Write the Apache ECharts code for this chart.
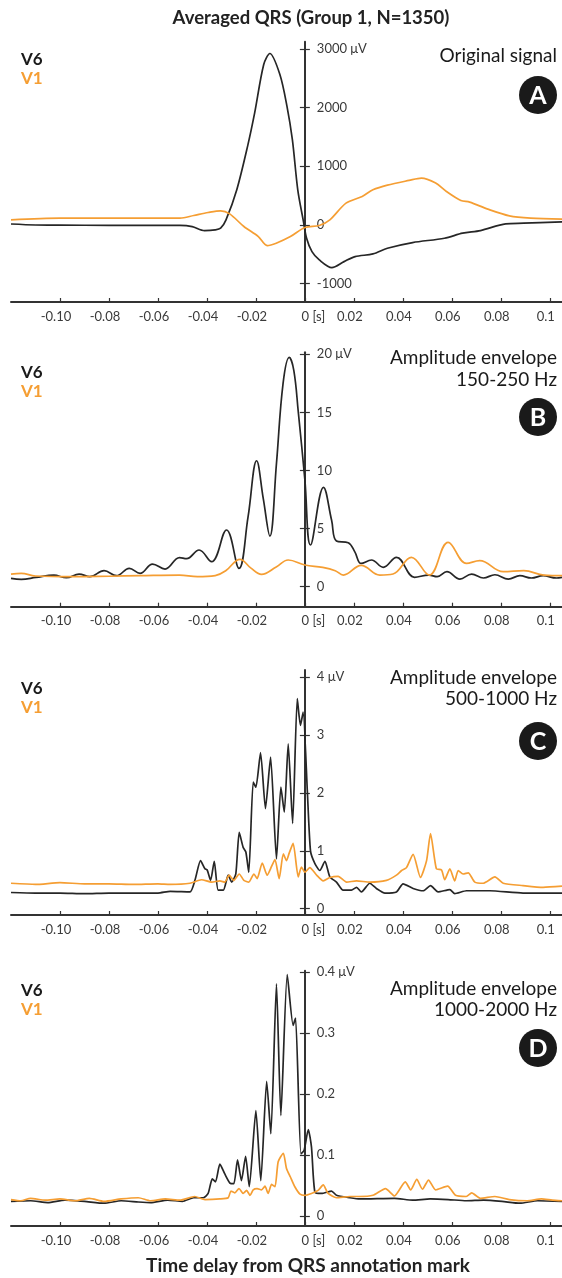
<!DOCTYPE html>
<html>
<head>
<meta charset="utf-8">
<script src="https://cdn.jsdelivr.net/npm/echarts@6/dist/echarts.min.js"></script>
<style>
html,body{margin:0;padding:0;background:#fff}
#chart{width:562px;height:1278px}
</style>
</head>
<body>
<div id="chart"></div>
<script>
// time axis (s)
var xTicks = [-0.1, -0.08, -0.06, -0.04, -0.02, 0, 0.02, 0.04, 0.06, 0.08, 0.1];
var xMin = -0.12, xMax = 0.105;

// A - original signal (uV)
var tA6 = [-0.12,-0.11,-0.1,-0.08,-0.06,-0.051,-0.046,-0.041,-0.0366,-0.0344,-0.0322,-0.0278,-0.0234,-0.0205,-0.0168,-0.0143,-0.0102,-0.0073,-0.0051,-0.0029,-0.0007,0.0007,0.0029,0.0059,0.011,0.016,0.0205,0.0278,0.0337,0.044,0.057,0.0644,0.0717,0.082,0.0893,0.105];
var vA6 = [15,-2,-5,-8,-10,-10,-30,-97,-85,-57,85,600,1340,1910,2736,2924,2565,2023,1453,598,85,-228,-456,-598,-730,-627,-541,-496,-399,-302,-228,-142,-97,17,28,51];
var tA1 = [-0.12,-0.1,-0.08,-0.06,-0.051,-0.0454,-0.0395,-0.0344,-0.0307,-0.0249,-0.019,-0.0154,-0.0117,-0.0059,0,0.0059,0.0102,0.0168,0.0234,0.0278,0.0337,0.0425,0.0476,0.0534,0.0578,0.0637,0.0673,0.0747,0.0835,0.0922,0.105];
var vA1 = [85,114,114,114,114,160,211,240,188,-28,-200,-353,-313,-200,-46,-11,85,370,485,598,678,758,798,713,570,416,388,268,154,114,97];

// B - amplitude envelope 150-250 Hz (uV)
var tB6 = [-0.12,-0.1158,-0.1098,-0.1025,-0.0974,-0.0922,-0.0878,-0.082,-0.0769,-0.0717,-0.0673,-0.0622,-0.0571,-0.0512,-0.0483,-0.0432,-0.0381,-0.032,-0.0269,-0.0232,-0.0197,-0.017,-0.0143,-0.0116,-0.0089,-0.0064,-0.0045,-0.0027,0,0.0023,0.0076,0.0109,0.0129,0.0177,0.0204,0.023,0.0272,0.032,0.0374,0.0448,0.0506,0.054,0.058,0.0633,0.0681,0.0729,0.0776,0.0831,0.0878,0.0925,0.0973,0.1027,0.105];
var vB6 = [0.72,0.63,0.8,1.0,0.77,1.09,0.86,1.38,0.95,1.58,1.15,1.95,1.52,2.5,2.41,3.16,2.15,4.88,1.58,6.0,10.84,7.6,4.36,10.6,17.5,19.74,18.6,15.06,9.2,3.59,8.55,5.74,3.93,3.79,3.0,2.0,2.3,1.67,2.53,0.81,1.0,0.86,1.29,0.66,1.09,0.75,1.03,0.66,0.95,0.75,0.95,0.75,0.8];
var tB1 = [-0.12,-0.1158,-0.11,-0.0952,-0.08,-0.0673,-0.0512,-0.0439,-0.0366,-0.0322,-0.0265,-0.022,-0.0177,-0.0117,-0.0068,0,0.0073,0.0124,0.0157,0.023,0.0306,0.036,0.0435,0.0508,0.0585,0.066,0.0714,0.081,0.0894,0.0976,0.105];
var vB1 = [1.09,1.15,0.92,0.86,0.9,0.95,1.0,0.86,0.95,1.4,2.36,1.6,1.07,1.7,2.3,1.87,1.66,1.38,1.0,1.84,1.0,1.09,2.53,1.0,3.82,2.0,2.24,1.29,1.38,1.0,0.95];

// C - amplitude envelope 500-1000 Hz (uV)
var tC6 = [-0.12,-0.11,-0.1,-0.09,-0.08,-0.07,-0.06,-0.055,-0.0469,-0.0449,-0.0426,-0.0408,-0.0399,-0.0385,-0.037,-0.0354,-0.0333,-0.0313,-0.0299,-0.0282,-0.0268,-0.0252,-0.0241,-0.0229,-0.0211,-0.02,-0.0181,-0.0161,-0.014,-0.0116,-0.0098,-0.0084,-0.0068,-0.005,-0.0031,-0.0018,-0.0007,0.001,0.0023,0.0041,0.0061,0.0082,0.0102,0.0129,0.0156,0.019,0.0211,0.0231,0.0265,0.0292,0.0327,0.0374,0.0401,0.0442,0.0483,0.0513,0.0544,0.0592,0.0612,0.066,0.0755,0.0891,0.105];
var vC6 = [0.28,0.27,0.27,0.26,0.27,0.27,0.27,0.3,0.29,0.49,0.83,0.69,0.67,0.49,0.82,0.32,0.32,0.58,0.46,0.6,1.32,1.06,0.98,0.63,2.19,2.1,2.7,1.73,2.62,0.86,2.1,1.67,2.85,1.47,3.63,3.17,3.4,2.04,1.0,0.78,0.66,0.82,0.55,0.46,0.32,0.32,0.37,0.29,0.44,0.35,0.27,0.29,0.43,0.35,0.31,0.4,0.29,0.33,0.26,0.31,0.31,0.27,0.27];
var tC1 = [-0.12,-0.11,-0.1,-0.09,-0.08,-0.07,-0.06,-0.0551,-0.0469,-0.0422,-0.0381,-0.0347,-0.0327,-0.0309,-0.029,-0.0268,-0.0249,-0.0229,-0.0208,-0.0195,-0.0174,-0.0154,-0.0136,-0.0122,-0.0105,-0.0088,-0.0075,-0.0064,-0.0048,-0.0027,-0.0014,0,0.002,0.0048,0.0075,0.0102,0.0136,0.017,0.0211,0.0265,0.0333,0.0374,0.0395,0.0415,0.0442,0.0472,0.0497,0.0513,0.0537,0.0558,0.0571,0.0592,0.0612,0.0626,0.0646,0.0667,0.0694,0.0728,0.0776,0.081,0.0891,0.0973,0.105];
var vC1 = [0.44,0.42,0.45,0.43,0.43,0.42,0.43,0.42,0.44,0.5,0.46,0.48,0.46,0.58,0.49,0.6,0.49,0.46,0.6,0.52,0.79,0.58,0.73,0.85,0.52,0.95,0.83,0.96,1.13,0.55,0.72,0.63,0.71,0.58,0.48,0.54,0.56,0.46,0.48,0.46,0.49,0.58,0.66,0.71,0.94,0.54,0.83,1.3,0.69,0.67,0.5,0.69,0.48,0.66,0.6,0.62,0.46,0.44,0.55,0.44,0.4,0.37,0.39];

// D - amplitude envelope 1000-2000 Hz (uV)
var tD6 = [-0.12,-0.112,-0.105,-0.098,-0.09,-0.082,-0.075,-0.068,-0.063,-0.056,-0.05,-0.0454,-0.0415,-0.0395,-0.0378,-0.0365,-0.0347,-0.0327,-0.0306,-0.029,-0.0275,-0.0259,-0.0242,-0.0227,-0.02,-0.018,-0.0156,-0.0139,-0.0116,-0.0098,-0.0072,-0.0048,-0.0038,-0.0016,-0.0003,0.0014,0.0027,0.0041,0.0068,0.0109,0.0129,0.0184,0.0224,0.0366,0.044,0.0512,0.0585,0.0659,0.073,0.0805,0.0878,0.095,0.105];
var vD6 = [0.024,0.025,0.022,0.026,0.024,0.021,0.025,0.023,0.022,0.026,0.024,0.030,0.030,0.037,0.061,0.056,0.085,0.069,0.054,0.053,0.092,0.058,0.098,0.048,0.173,0.058,0.221,0.135,0.381,0.165,0.396,0.313,0.325,0.102,0.108,0.142,0.113,0.039,0.037,0.041,0.034,0.030,0.028,0.029,0.026,0.028,0.027,0.025,0.026,0.024,0.021,0.025,0.024];
var tD1 = [-0.12,-0.116,-0.112,-0.106,-0.1,-0.094,-0.088,-0.082,-0.075,-0.068,-0.063,-0.057,-0.051,-0.045,-0.0408,-0.0347,-0.0313,-0.0302,-0.0286,-0.0269,-0.0252,-0.0238,-0.0224,-0.0211,-0.0195,-0.0177,-0.0163,-0.015,-0.0136,-0.0122,-0.0109,-0.0088,-0.0075,-0.0059,-0.0041,-0.002,0,0.0027,0.0054,0.0075,0.0095,0.0129,0.0184,0.022,0.0278,0.0329,0.0366,0.041,0.0432,0.0457,0.048,0.0505,0.0534,0.0583,0.0615,0.0659,0.0681,0.0717,0.0776,0.0835,0.0908,0.0966,0.101,0.105];
var vD1 = [0.027,0.025,0.029,0.026,0.028,0.025,0.029,0.024,0.028,0.030,0.025,0.028,0.026,0.032,0.027,0.028,0.030,0.041,0.038,0.045,0.037,0.042,0.034,0.043,0.045,0.043,0.049,0.037,0.052,0.048,0.089,0.103,0.078,0.064,0.048,0.036,0.034,0.037,0.042,0.051,0.037,0.030,0.032,0.032,0.034,0.045,0.033,0.056,0.043,0.060,0.044,0.059,0.043,0.049,0.034,0.032,0.038,0.029,0.032,0.027,0.025,0.028,0.026,0.025];

var yTicksA = [-1000, 0, 1000, 2000, 3000];
var yTicksB = [0, 5, 10, 15, 20];
var yTicksC = [0, 1, 2, 3, 4];
var yTicksD = [0, 0.1, 0.2, 0.3, 0.4];

var BLACK = '#262626', ORANGE = '#f59e33', AXIS = '#333';
var FONT = 'Lato, "Open Sans", sans-serif';
var W = 562, GRID_LEFT = 11;

var panels = [
    {top: 41.7, height: 260.3, min: -1316, max: 3125, ticks: yTicksA, t6: tA6, v6: vA6, t1: tA1, v1: vA1, smooth: 0.3,
     text: ['Original signal'], textY: [56], labY: 60, circY: 95, letter: 'A'},
    {top: 352.3, height: 254.4, min: -1.72, max: 20.17, ticks: yTicksB, t6: tB6, v6: vB6, t1: tB1, v1: vB1, smooth: 0.4,
     text: ['Amplitude envelope', '150-250 Hz'], textY: [358, 379.5], labY: 373, circY: 417, letter: 'B'},
    {top: 670, height: 245, min: -0.109, max: 4.126, ticks: yTicksC, t6: tC6, v6: vC6, t1: tC1, v1: vC1, smooth: 0.2,
     text: ['Amplitude envelope', '500-1000 Hz'], textY: [678, 698.5], labY: 689, circY: 741, letter: 'C'},
    {top: 970.7, height: 255.3, min: -0.0164, max: 0.4026, ticks: yTicksD, t6: tD6, v6: vD6, t1: tD1, v1: vD1, smooth: 0.2,
     text: ['Amplitude envelope', '1000-2000 Hz'], textY: [989, 1010], labY: 991, circY: 1048, letter: 'D'}
];

// y axis sits at t = 0: shift it inward from the grid's left edge
var yOffset = -(0 - xMin) / (xMax - xMin) * (W - GRID_LEFT);

function pairs(t, v) {
    return t.map(function (x, i) { return [x, v[i]]; });
}

var grids = [], xAxes = [], yAxes = [], series = [], graphics = [];

panels.forEach(function (p, i) {
    grids.push({left: GRID_LEFT, right: 0, top: p.top, height: p.height});
    xAxes.push({
        type: 'value', gridIndex: i, min: xMin, max: xMax,
        splitLine: {show: false},
        axisLine: {onZero: false, lineStyle: {color: AXIS, width: 2}},
        axisTick: {inside: true, length: 4, customValues: xTicks, lineStyle: {color: AXIS, width: 1.2}},
        axisLabel: {
            customValues: xTicks, margin: 8,
            formatter: function (v) {
                if (Math.abs(v) < 1e-9) return '{z|0 [s]}';
                if (Math.abs(v - 0.1) < 1e-9) return '{n|0.1}';
                return '{n|' + v.toFixed(2) + '}';
            },
            rich: {
                n: {fontFamily: FONT, fontSize: 13, color: '#3a3a3a', padding: [0, 8, 0, 0]},
                z: {fontFamily: FONT, fontSize: 13, color: '#3a3a3a', padding: [0, 0, 0, 17]}
            }
        }
    });
    var top = p.ticks[p.ticks.length - 1];
    yAxes.push({
        type: 'value', gridIndex: i, min: p.min, max: p.max, position: 'left', offset: yOffset,
        splitLine: {show: false},
        axisLine: {onZero: false, lineStyle: {color: AXIS, width: 2}},
        axisTick: {inside: false, length: 5, customValues: p.ticks, lineStyle: {color: AXIS, width: 1.2}},
        axisLabel: {
            inside: true, margin: 12, customValues: p.ticks,
            fontFamily: FONT, fontSize: 13, color: '#3a3a3a',
            formatter: function (v) { return v === top ? v + ' \u03bcV' : String(v); }
        }
    });
    yAxes.push({
        type: 'value', gridIndex: i, min: p.min, max: p.max, position: 'left', offset: yOffset,
        splitLine: {show: false},
        axisLine: {show: false, onZero: false},
        axisTick: {inside: true, length: 5, customValues: p.ticks, lineStyle: {color: AXIS, width: 1.2}},
        axisLabel: {show: false}
    });
    series.push({
        name: 'V6', type: 'line', xAxisIndex: i, yAxisIndex: 2 * i,
        data: pairs(p.t6, p.v6), showSymbol: false, smooth: p.smooth,
        lineStyle: {color: BLACK, width: 1.7}, silent: true
    });
    series.push({
        name: 'V1', type: 'line', xAxisIndex: i, yAxisIndex: 2 * i,
        data: pairs(p.t1, p.v1), showSymbol: false, smooth: p.smooth,
        lineStyle: {color: ORANGE, width: 1.7}, silent: true
    });

    graphics.push({type: 'text', x: 21, y: p.labY, style: {text: 'V6', fill: '#1a1a1a', font: 'bold 17px ' + FONT, textAlign: 'left', textVerticalAlign: 'middle'}});
    graphics.push({type: 'text', x: 21, y: p.labY + 19, style: {text: 'V1', fill: ORANGE, font: 'bold 17px ' + FONT, textAlign: 'left', textVerticalAlign: 'middle'}});
    p.text.forEach(function (s, k) {
        graphics.push({type: 'text', x: 557, y: p.textY[k], style: {text: s, fill: '#1a1a1a', font: '19px ' + FONT, textAlign: 'right', textVerticalAlign: 'middle'}});
    });
    graphics.push({type: 'circle', shape: {cx: 538, cy: p.circY, r: 19}, style: {fill: '#1a1a1a'}});
    graphics.push({type: 'text', x: 538, y: p.circY + 1, style: {text: p.letter, fill: '#fff', font: 'bold 25px ' + FONT, textAlign: 'center', textVerticalAlign: 'middle'}});
});

graphics.push({type: 'text', x: 311, y: 18, style: {text: 'Averaged QRS (Group 1, N=1350)', fill: '#222', font: 'bold 18.5px ' + FONT, textAlign: 'center', textVerticalAlign: 'middle'}});
graphics.push({type: 'text', x: 308, y: 1266, style: {text: 'Time delay from QRS annotation mark', fill: '#222', font: 'bold 19px ' + FONT, textAlign: 'center', textVerticalAlign: 'middle'}});

var option = {
    animation: false,
    backgroundColor: '#fff',
    grid: grids,
    xAxis: xAxes,
    yAxis: yAxes,
    series: series,
    graphic: graphics
};

var myChart = echarts.init(document.getElementById('chart'));
myChart.setOption(option);
</script>
</body>
</html>
